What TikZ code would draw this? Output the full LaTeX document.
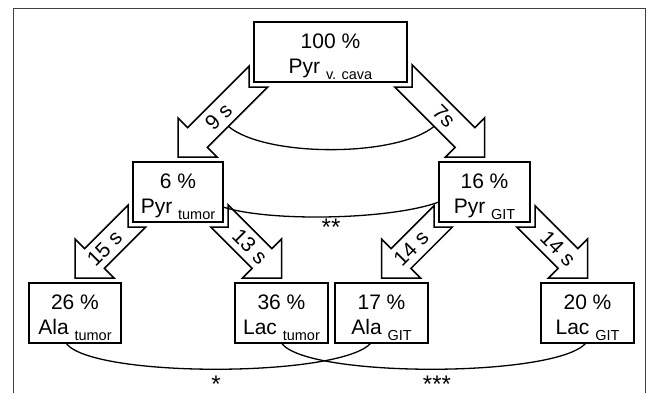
\documentclass[tikz,border=0pt]{standalone}
\usepackage{fontspec}
\setmainfont{Liberation Sans}
\usetikzlibrary{calc}
\newcommand\subtxt[1]{\raisebox{-6pt}{\fontsize{14.5}{16}\selectfont #1}}
\newcommand\ah{39}
\newcommand\sk{9.9}
\definecolor{framec}{gray}{0.25}
\tikzset{
  box/.style={draw, line width=1.6pt, fill=white, minimum height=60pt, inner sep=0pt, outer sep=0pt},
  maintxt/.style={font=\fontsize{21}{25}\selectfont, anchor=base, inner sep=0pt},
  arrlbl/.style={font=\fontsize{21}{24}\selectfont, inner sep=0pt},
  arr/.style={draw, line width=1.5pt, fill=white, line join=miter},
  link/.style={draw, line width=1.3pt},
  startxt/.style={font=\fontsize{24}{26}\selectfont, anchor=base, inner sep=0pt},
  framestyle/.style={draw=framec, line width=1pt}
}
% #1 name, #2 left, #3 top, #4 width, #5 line1, #6 line2
\newcommand\databox[6]{%
  \node[box, minimum width=#4pt, anchor=north west] (#1) at (#2,#3) {};
  \node[maintxt] (#1-l1) at ($(#1.north)+(0,26)$) {#5};
  \node[maintxt] (#1-l2) at ($(#1.north)+(0,51.3)$) {#6};
}
% #1 src, #2 src corner, #3 tgt, #4 s, #5 label, #6 label offset
\newcommand\blockarrow[6]{%
  \coordinate (T) at ($(#3.north)+(0,-5)$);
  \coordinate (H1) at ($(T)+(0,-\ah)$);
  \coordinate (H2) at ($(T)+({-1*(#4)*\ah},0)$);
  \coordinate (M) at ($(T)+({-0.5*(#4)*\ah},{-0.5*\ah})$);
  \coordinate (S1) at ($(M)+({(#4)*\sk},-\sk)$);
  \coordinate (S2) at ($(M)+({-1*(#4)*\sk},\sk)$);
  \coordinate (S1b) at ($(S1)+({-10*(#4)},-10)$);
  \coordinate (S2b) at ($(S2)+({-10*(#4)},-10)$);
  \coordinate (E) at ($(#1.#2)+({5*(#4)},5)$);
  \coordinate (Ev) at ($(E)+(0,-10)$);
  \coordinate (Eh) at ($(E)+(10,0)$);
  \coordinate (U) at (intersection of S1--S1b and E--Ev);
  \coordinate (V) at (intersection of S2--S2b and E--Eh);
  \draw[arr] (T) -- (H1) -- (S1) -- (U) -- (E) -- (V) -- (S2) -- (H2) -- cycle;
  \node[arrlbl, rotate={-45*(#4)}] (lbl-#1-#3) at ($(M)+({-1*(#4)*#6},-#6)$) {#5};
  \coordinate (edge-#1-#3) at ($(S2)+({-21*(#4)},-21)$);
}
\begin{document}
\begin{tikzpicture}[x=1pt, y=-1pt]
\useasboundingbox (0,0) rectangle (652,394);
\fill[white] (0,0) rectangle (652,394);
\draw[framestyle] (13,393) -- (13,8) -- (645,8) -- (645,393);

\databox{top}{254}{22}{153}{100 \%}{Pyr \subtxt{v. cava}}
\databox{pyrT}{133}{162}{90}{6 \%}{Pyr \subtxt{tumor}}
\databox{pyrG}{439}{162}{91}{16 \%}{Pyr \subtxt{GIT}}
\databox{alaT}{29}{283}{92}{26 \%}{Ala \subtxt{tumor}}
\databox{lacT}{235}{283}{93}{36 \%}{Lac \subtxt{tumor}}
\databox{alaG}{335}{283}{93}{17 \%}{Ala \subtxt{GIT}}
\databox{lacG}{541}{283}{93}{20 \%}{Lac \subtxt{GIT}}

\blockarrow{top}{south west}{pyrT}{-1}{9 s}{21}
\blockarrow{top}{south east}{pyrG}{1}{7s}{21}
\blockarrow{pyrT}{south west}{alaT}{-1}{15 s}{10}
\blockarrow{pyrT}{south east}{lacT}{1}{13 s}{12}
\blockarrow{pyrG}{south west}{alaG}{-1}{14 s}{10}
\blockarrow{pyrG}{south east}{lacG}{1}{14 s}{10}

\draw[link] (edge-top-pyrT) .. controls ($(edge-top-pyrT)+(37,31)$) and ($(edge-top-pyrG)+(-38,31)$) .. (edge-top-pyrG);

\coordinate (c2a) at ($(pyrT.east)+(0,15)$);
\coordinate (c2b) at ($(pyrG.west)+(0,10)$);
\draw[link] (c2a) .. controls ($(c2a)+(46,15)$) and ($(c2b)+(-49,18)$) .. (c2b);

\coordinate (c3a) at ($(alaT.south)+(-9,0)$);
\coordinate (c3b) at ($(alaG.south)+(-10.5,0)$);
\draw[link] (c3a) .. controls ($(c3a)+(24,35)$) and ($(c3b)+(-31,35)$) .. (c3b);

\coordinate (c4a) at (lacT.south);
\coordinate (c4b) at ($(lacG.south)+(-1.5,0)$);
\draw[link] (c4a) .. controls ($(c4a)+(24,35)$) and ($(c4b)+(-30,35)$) .. (c4b);

\node[startxt] (s2) at (331,235) {**};
\node[startxt] (s1) at (216,392) {*};
\node[startxt] (s3) at (437,392) {***};
\end{tikzpicture}
\end{document}
